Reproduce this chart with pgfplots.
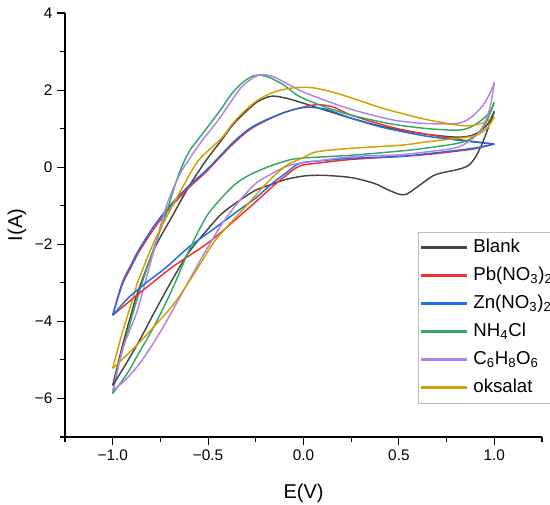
\documentclass[border=0pt]{standalone}
\usepackage{pgfplots}
\pgfplotsset{compat=1.18}
\usepackage{fontspec}
\setmainfont{Liberation Sans}
\definecolor{blankc}{RGB}{70,70,70}
\definecolor{pbc}{RGB}{245,45,45}
\definecolor{znc}{RGB}{30,110,230}
\definecolor{nhc}{RGB}{50,170,100}
\definecolor{c6c}{RGB}{180,130,230}
\definecolor{oksc}{RGB}{212,160,0}
\pgfplotsset{leg/.style={draw=#1, legend image code/.code={\fill[fill=#1] (0pt,-0.7pt) rectangle (33pt,0.7pt);}}}
\begin{document}
\begin{tikzpicture}
\begin{axis}[
  scale only axis, width=357.75pt, height=318pt,
  xmin=-1.25, xmax=1.25, ymin=-7, ymax=4,
  axis lines*=left, axis line style={-, line width=0.9pt},
  tick align=outside, major tick length=6pt, minor tick length=3.5pt,
  tick style={line width=0.8pt, black},
  xtick={-1,-0.5,0,0.5,1}, xticklabels={−1.0,−0.5,0.0,0.5,1.0},
  minor xtick={-1.25,-0.75,-0.25,0.25,0.75,1.25},
  ytick={-6,-4,-2,0,2,4}, yticklabels={−6,−4,−2,0,2,4},
  minor ytick={-7,-5,-3,-1,1,3},
  tick label style={font=\fontsize{11.5}{13}\selectfont},
  xlabel={E(V)}, ylabel={I(A)},
  label style={font=\fontsize{15}{17}\selectfont},
  x label style={at={(axis description cs:0.5,0)}, anchor=center, yshift=-42pt},
  y label style={at={(axis description cs:0,0.5)}, anchor=center, yshift=36pt},
  legend cell align=left,
  legend style={at={(axis description cs:0.740,0.4835)}, anchor=north west,
    draw=none, fill=white, name=leg,
    font=\fontsize{14}{16}\selectfont, column sep=5pt, row sep=6pt,
    inner xsep=2.25pt, inner ysep=4pt,
    nodes={inner sep=0pt, text height=11pt, text depth=4pt}},
  every axis plot/.append style={line width=1.1pt, smooth},
]
\addplot[leg=blankc] coordinates {(-1,-5.66) (-0.95,-4.65) (-0.9,-3.75) (-0.865,-3.19) (-0.78,-2.1) (-0.69,-1.29) (-0.6,-0.5) (-0.51,0.18) (-0.43,0.7) (-0.37,1.1) (-0.3,1.45) (-0.24,1.7) (-0.17,1.84) (-0.1,1.8) (-0.02,1.69) (0.1,1.5) (0.25,1.27) (0.4,1.07) (0.51,0.96) (0.65,0.85) (0.8,0.78) (0.88,0.82) (0.93,0.95) (0.97,1.15) (1.0,1.45)};
\addlegendentry{Blank}
\addplot[leg=pbc] coordinates {(-1,-3.84) (-0.95,-3.05) (-0.9,-2.56) (-0.865,-2.22) (-0.78,-1.57) (-0.69,-1.0) (-0.6,-0.53) (-0.51,-0.12) (-0.43,0.3) (-0.357,0.66) (-0.28,0.98) (-0.2,1.2) (-0.1,1.42) (0,1.56) (0.07,1.62) (0.15,1.57) (0.25,1.35) (0.4,1.12) (0.51,0.98) (0.65,0.85) (0.81,0.72) (0.9,0.66) (1.0,0.6)};
\addlegendentry{Pb(NO\textsubscript{3})\textsubscript{2}}
\addplot[leg=znc] coordinates {(-1,-3.84) (-0.95,-3.0) (-0.9,-2.5) (-0.865,-2.16) (-0.78,-1.5) (-0.69,-0.94) (-0.6,-0.48) (-0.51,-0.08) (-0.43,0.33) (-0.357,0.7) (-0.28,1.01) (-0.2,1.22) (-0.1,1.42) (-0.02,1.53) (0.04,1.55) (0.12,1.5) (0.25,1.27) (0.4,1.05) (0.51,0.93) (0.65,0.8) (0.81,0.7) (0.9,0.65) (1.0,0.6)};
\addlegendentry{Zn(NO\textsubscript{3})\textsubscript{2}}
\addplot[leg=nhc] coordinates {(-1,-5.87) (-0.97,-5.15) (-0.934,-4.49) (-0.88,-3.55) (-0.83,-2.76) (-0.77,-1.9) (-0.72,-1.2) (-0.655,-0.2) (-0.6,0.4) (-0.54,0.8) (-0.44,1.45) (-0.38,1.88) (-0.33,2.15) (-0.28,2.33) (-0.24,2.39) (-0.18,2.33) (-0.1,2.12) (-0.02,1.83) (0.12,1.55) (0.25,1.35) (0.4,1.18) (0.5,1.09) (0.65,1.0) (0.81,0.96) (0.88,1.05) (0.94,1.25) (0.98,1.45) (1.0,1.69)};
\addlegendentry{NH\textsubscript{4}Cl}
\addplot[leg=c6c] coordinates {(-1,-5.8) (-0.95,-4.75) (-0.9,-4.1) (-0.865,-3.63) (-0.8,-2.45) (-0.72,-1.03) (-0.65,-0.2) (-0.6,0.2) (-0.53,0.7) (-0.45,1.2) (-0.38,1.7) (-0.33,2.05) (-0.27,2.3) (-0.22,2.4) (-0.16,2.35) (-0.08,2.15) (0,1.95) (0.12,1.72) (0.25,1.5) (0.4,1.3) (0.5,1.2) (0.65,1.13) (0.81,1.14) (0.88,1.3) (0.94,1.6) (0.98,1.95) (1.0,2.2)};
\addlegendentry{C\textsubscript{6}H\textsubscript{8}O\textsubscript{6}}
\addplot[leg=oksc] coordinates {(-1,-5.22) (-0.95,-4.3) (-0.9,-3.5) (-0.865,-2.93) (-0.78,-1.9) (-0.69,-1.03) (-0.62,-0.4) (-0.55,0.18) (-0.43,0.75) (-0.37,1.14) (-0.3,1.5) (-0.24,1.74) (-0.17,1.92) (-0.1,2.02) (-0.03,2.07) (0.05,2.06) (0.15,1.95) (0.25,1.8) (0.4,1.55) (0.51,1.4) (0.65,1.23) (0.81,1.09) (0.88,1.08) (0.94,1.15) (1.0,1.3)};
\addlegendentry{oksalat}
% reverse branches
\addplot[draw=blankc, forget plot] coordinates {(1.0,1.45) (0.97,1.05) (0.94,0.65) (0.9,0.25) (0.86,0.03) (0.8,-0.07) (0.75,-0.12) (0.68,-0.22) (0.6,-0.5) (0.54,-0.7) (0.5,-0.7) (0.44,-0.58) (0.37,-0.42) (0.25,-0.27) (0.1,-0.21) (0,-0.23) (-0.094,-0.32) (-0.17,-0.45) (-0.252,-0.6) (-0.34,-0.88) (-0.427,-1.2) (-0.5,-1.6) (-0.6,-2.2) (-0.69,-2.94) (-0.78,-3.75) (-0.86,-4.5) (-0.93,-5.1) (-1,-5.66)};
\addplot[draw=pbc, forget plot] coordinates {(1.0,0.6) (0.9,0.48) (0.81,0.42) (0.65,0.33) (0.51,0.28) (0.25,0.2) (0.1,0.12) (-0.02,0.03) (-0.1,-0.25) (-0.164,-0.51) (-0.25,-0.9) (-0.34,-1.29) (-0.43,-1.68) (-0.51,-2.0) (-0.6,-2.3) (-0.69,-2.6) (-0.777,-2.94) (-0.88,-3.35) (-1,-3.84)};
\addplot[draw=znc, forget plot] coordinates {(1.0,0.6) (0.9,0.5) (0.81,0.44) (0.65,0.35) (0.51,0.28) (0.25,0.23) (0.1,0.17) (-0.02,0.1) (-0.094,-0.16) (-0.164,-0.42) (-0.25,-0.8) (-0.34,-1.12) (-0.47,-1.6) (-0.6,-2.07) (-0.72,-2.6) (-0.83,-3.02) (-0.92,-3.4) (-1,-3.84)};
\addplot[draw=nhc, forget plot] coordinates {(1.0,1.69) (0.97,1.3) (0.93,0.95) (0.88,0.75) (0.81,0.62) (0.65,0.5) (0.51,0.42) (0.25,0.31) (-0.02,0.23) (-0.1,0.15) (-0.2,-0.02) (-0.29,-0.22) (-0.36,-0.45) (-0.43,-0.8) (-0.51,-1.29) (-0.6,-2.16) (-0.69,-3.19) (-0.78,-4.1) (-0.865,-4.84) (-0.93,-5.4) (-1,-5.87)};
\addplot[draw=c6c, forget plot] coordinates {(1.0,2.2) (0.98,1.6) (0.95,1.15) (0.9,0.8) (0.81,0.52) (0.65,0.4) (0.5,0.32) (0.25,0.27) (-0.02,0.1) (-0.094,0.01) (-0.17,-0.18) (-0.252,-0.43) (-0.34,-0.9) (-0.427,-1.47) (-0.51,-2.15) (-0.6,-2.94) (-0.69,-3.75) (-0.777,-4.49) (-0.86,-5.1) (-0.93,-5.5) (-1,-5.8)};
\addplot[draw=oksc, forget plot] coordinates {(1.0,1.3) (0.96,1.0) (0.9,0.82) (0.81,0.75) (0.65,0.66) (0.51,0.57) (0.25,0.49) (0.07,0.4) (0,0.25) (-0.094,0.03) (-0.2,-0.45) (-0.29,-0.95) (-0.374,-1.4) (-0.47,-1.95) (-0.584,-2.85) (-0.68,-3.55) (-0.777,-4.1) (-0.88,-4.65) (-1,-5.22)};
\end{axis}
\draw[gray!50, line width=0.6pt] (leg.north west) rectangle (leg.south east);
\pgfresetboundingbox
\path (-48.75pt,-50.25pt) rectangle (363.75pt,327.75pt);
\end{tikzpicture}
\end{document}
